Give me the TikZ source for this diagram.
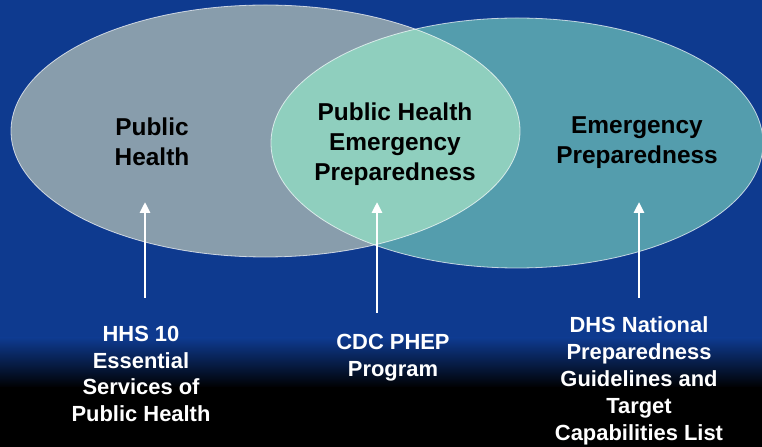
\documentclass[tikz,border=0pt]{standalone}
\usepackage{fontspec}
\setmainfont{Liberation Sans}
\usetikzlibrary{arrows.meta}

\definecolor{bgblue}{RGB}{14,58,143}
\definecolor{phgray}{RGB}{136,157,172}
\definecolor{epteal}{RGB}{84,157,173}
\definecolor{phepgreen}{RGB}{143,207,190}

\tikzset{
  areaname/.style={align=center, text=black, inner sep=0pt,
    font=\fontsize{24.5}{30}\selectfont\bfseries},
  sourcename/.style={align=center, text=white, inner sep=0pt,
    font=\fontsize{22}{27}\selectfont\bfseries},
  feeds/.style={draw=white, line width=2.7bp, -{Triangle[width=10bp,length=11bp]}},
  rim/.style={draw=white, draw opacity=0.7, line width=0.8bp},
  phfield/.style={x radius=254.5bp, y radius=126bp},
  epfield/.style={x radius=246bp, y radius=125bp}
}

\begin{document}
\begin{tikzpicture}[x=1bp, y=-1bp]
\useasboundingbox (0,0) rectangle (762,447);

% background
\fill[bgblue] (0,0) rectangle (762,339);
\shade[top color=bgblue, bottom color=black] (0,338) rectangle (762,388);
\fill[black] (0,387) rectangle (762,447);

% the two fields and their overlap
\coordinate (phcentre) at (265.5,131);
\coordinate (epcentre) at (517,143);
\fill[phgray] (phcentre) ellipse [phfield];
\fill[epteal] (epcentre) ellipse [epfield];
\begin{scope}
  \clip (phcentre) ellipse [phfield];
  \fill[phepgreen] (epcentre) ellipse [epfield];
\end{scope}
\draw[rim] (phcentre) ellipse [phfield];
\draw[rim] (epcentre) ellipse [epfield];

% field names
\node[areaname] (ph) at (152,142) {Public\\Health};
\node[areaname] (phep) at (395,144) {Public Health\\Emergency\\Preparedness};
\node[areaname] (ep) at (637,143) {Emergency\\Preparedness};

% sources
\node[sourcename] (hhs) at (141,374) {HHS 10\\Essential\\Services of\\Public Health};
\node[sourcename] (cdc) at (393,358) {CDC PHEP\\Program};
\node[sourcename] (dhs) at (639,381) {DHS National\\Preparedness\\Guidelines and\\Target\\Capabilities List};

% arrows
\foreach \name/\x/\base in {hhs/145/298, cdc/377/313, dhs/639/298} {
  \coordinate (\name base) at (\x,\base);
  \coordinate (\name tip) at (\x,202);
  \draw[feeds] (\name base) -- (\name tip);
}
\end{tikzpicture}
\end{document}
